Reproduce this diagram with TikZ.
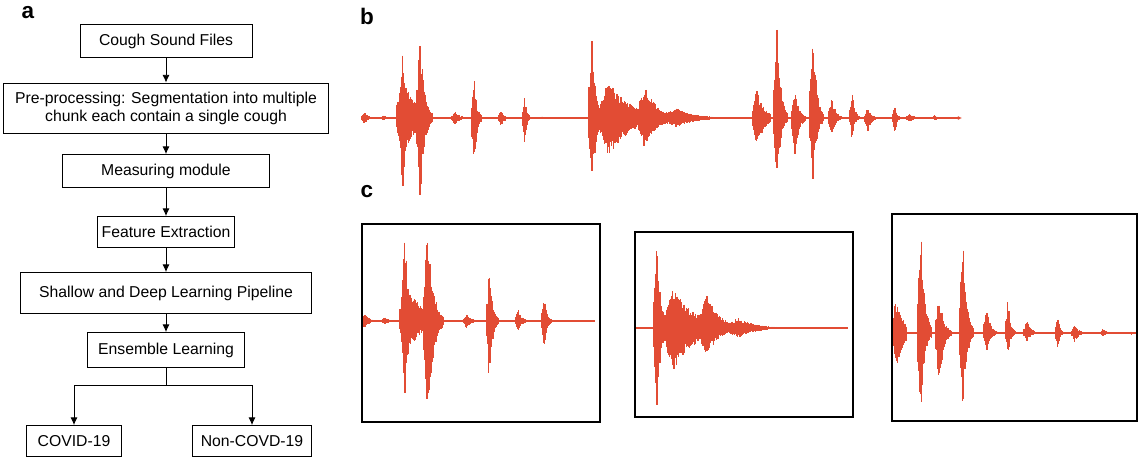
\documentclass[tikz,border=0pt]{standalone}
\usepackage{fontspec}
\setmainfont{Liberation Sans}
\usetikzlibrary{arrows.meta}

\definecolor{wavered}{RGB}{226,76,52}

\tikzset{
  stage/.style={draw, line width=0.6pt, align=center, inner sep=0pt,
    font=\fontsize{11.2}{12.8}\selectfont},
  flow/.style={line width=0.6pt, -{Latex[length=5.5pt,width=5pt]}},
  panel/.style={font=\fontsize{16}{16}\selectfont\bfseries},
  wave/.style={wavered, line width=0.8pt},
  baseline/.style={wavered, line width=1.4pt},
  frame/.style={draw, line width=1.1pt},
}

% one sound burst: start x, baseline, width, up, down, decay
\newcommand{\burst}[6]{%
  \foreach \wx in {0,0.6,...,#3}{
    \pgfmathsetmacro{\wt}{\wx/#3}
    \pgfmathsetmacro{\wenv}{\wt<0.2 ? 0.35+3.25*\wt : exp(-#6*(\wt-0.2)/0.8)}
    \pgfmathsetmacro{\wup}{#4*\wenv*(0.6+0.4*rnd)}
    \pgfmathsetmacro{\wdn}{#5*\wenv*(0.6+0.4*rnd)}
    \draw[wave] (#1+\wx,#2-\wup) -- (#1+\wx,#2+\wdn);
  }%
}

\begin{document}
\begin{tikzpicture}[x=0.025cm,y=-0.025cm]
  \useasboundingbox (0,0) rectangle (1140,460);
  \pgfmathsetseed{11}

  % flow chart
  \node[panel] (la) at (28,13) {a};
  \node[stage, minimum width=4.3cm, minimum height=0.825cm] (cough) at (166,41) {Cough Sound Files};
  \node[stage, minimum width=8.125cm, minimum height=1.25cm] (pre) at (166,108) {Pre-processing: Segmentation into multiple\\chunk each contain a single cough};
  \node[stage, minimum width=5.175cm, minimum height=0.825cm] (measure) at (166,171) {Measuring module};
  \node[stage, minimum width=3.425cm, minimum height=0.775cm] (feature) at (166,232) {Feature Extraction};
  \node[stage, minimum width=7.275cm, minimum height=1.025cm] (shallow) at (166,293) {Shallow and Deep Learning Pipeline};
  \node[stage, minimum width=3.925cm, minimum height=0.875cm] (ensemble) at (166,350) {Ensemble Learning};
  \node[stage, minimum width=2.375cm, minimum height=0.775cm] (covid) at (74,441) {COVID-19};
  \node[stage, minimum width=2.975cm, minimum height=0.775cm] (noncovid) at (252,441) {Non-COVD-19};
  \coordinate (split) at (166,385);

  \draw[flow] (cough) -- (pre);
  \draw[flow] (pre) -- (measure);
  \draw[flow] (measure) -- (feature);
  \draw[flow] (feature) -- (shallow);
  \draw[flow] (shallow) -- (ensemble);
  \draw[line width=0.6pt] (ensemble) -- (split);
  \draw[flow] (split) -| (covid);
  \draw[flow] (split) -| (noncovid);

  % b: full recording
  \node[panel] (lb) at (367,16) {b};
  \draw[baseline, -{Latex[length=3pt,width=3pt]}] (362,118) -- (962,118);
  \foreach \s/\w/\u/\d/\k in {362/10/7/7/2, 381/10/3/3/2, 400/14/78/77/3, 397/32/42/40/2,
      407/10/22/22/2, 417/16/83/87/3, 452/12/8/8/2, 472/10/43/55/3, 499/8/8/10/2,
      523/8/23/29/3, 541/5/2/2/2,
      589/14/88/82/3, 600/42/38/39/1.5, 638/32/33/30/2, 663/68/10/10/3,
      753/18/30/32/2, 774/14/98/75/3, 792/14/31/47/3, 810/14/90/69/3, 829/14/21/19/3,
      850/10/30/20/3, 865/14/10/15/3, 893/8/15/17/3, 907/12/5/5/2, 933/8/3/3/2}
    \burst{\s}{118}{\w}{\u}{\d}{\k};

  % c: single coughs
  \node[panel] (lc) at (367,192) {c};
  \draw[baseline] (363,321) -- (595,321);
  \foreach \s/\w/\u/\d/\k in {362/12/8/7/2, 382/12/4/4/2, 402/14/88/86/3, 400/40/35/30/2,
      412/10/24/22/2, 424/20/96/97/3, 464/12/7/7/2, 487/12/51/62/3, 516/10/12/12/2,
      542/10/28/32/3}
    \burst{\s}{321}{\w}{\u}{\d}{\k};

  \draw[baseline] (636,328) -- (848,328);
  \foreach \s/\w/\u/\d/\k in {654/14/91/85/3, 665/42/40/44/1.5, 700/32/34/30/2, 725/65/10/10/3}
    \burst{\s}{328}{\w}{\u}{\d}{\k};

  \draw[baseline] (893,333) -- (1136,333);
  \foreach \s/\w/\u/\d/\k in {893/14/36/37/1.5, 918/14/117/86/3, 936/16/38/52/3, 960/14/106/80/3,
      984/14/26/20/3, 1006/10/36/22/3, 1024/14/15/9/3, 1056/8/20/18/3, 1072/12/8/9/2,
      1101/10/5/4/2, 1130/5/2/2/2}
    \burst{\s}{333}{\w}{\u}{\d}{\k};

  \draw[frame] (362,224) rectangle (600,422);
  \draw[frame] (635,232) rectangle (853,417);
  \draw[frame] (892,214) rectangle (1137,421);
\end{tikzpicture}
\end{document}
